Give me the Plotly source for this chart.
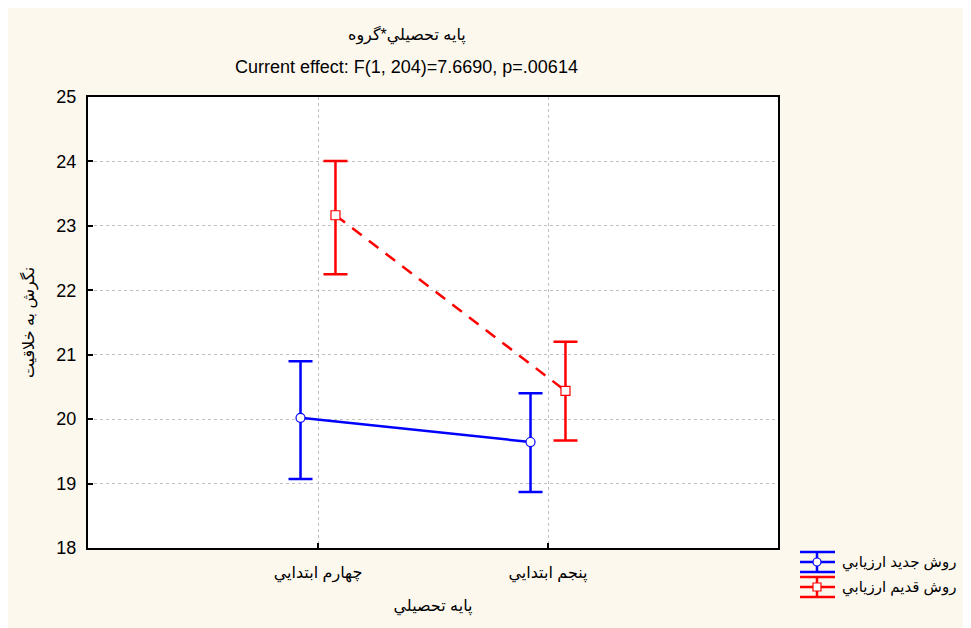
import plotly.graph_objects as go

# ---- data ----
categories = ["چهارم ابتدايي", "پنجم ابتدايي"]
series_names = ["روش جديد ارزيابي", "روش قديم ارزيابي"]
new_mean = [20.02, 19.645]
new_upper = [20.90, 20.40]
new_lower = [19.07, 18.87]
old_mean = [23.165, 20.44]
old_upper = [24.005, 21.20]
old_lower = [22.25, 19.67]
y_ticks = [18, 19, 20, 21, 22, 23, 24, 25]

title_main = "پايه تحصيلي*گروه"
title_sub = "Current effect: F(1, 204)=7.6690, p=.00614"
x_title = "پايه تحصيلي"
y_title = "نگرش به خلاقيت"

# ---- layout geometry (page body has an 8px margin) ----
OFF = 8
W, H = 971 - OFF, 628 - OFF
L, R, T, B = 88 - OFF, 193, 97 - OFF, 80
PW, PH = W - L - R, H - T - B
FONT = "Arial, 'Liberation Sans', 'DejaVu Sans', sans-serif"
BLUE = "#0000FF"
RED = "#FF0000"
offset = 0.076

def px_x(px):
    return (px - OFF - L) / PW

def px_y(py):
    return (H - B - (py - OFF)) / PH

xs = list(range(len(categories)))

fig = go.Figure()

fig.add_trace(go.Scatter(
    x=[x - offset for x in xs], y=new_mean, mode="lines+markers",
    name=series_names[0], showlegend=False,
    line=dict(color=BLUE, width=2.5),
    marker=dict(symbol="circle", size=9, color="white", line=dict(color=BLUE, width=1.2)),
    error_y=dict(type="data", symmetric=False,
                 array=[u - m for u, m in zip(new_upper, new_mean)],
                 arrayminus=[m - l for m, l in zip(new_mean, new_lower)],
                 color=BLUE, thickness=2.5, width=12),
))
fig.add_trace(go.Scatter(
    x=[x + offset for x in xs], y=old_mean, mode="lines+markers",
    name=series_names[1], showlegend=False,
    line=dict(color=RED, width=2.5, dash="12px,9px"),
    marker=dict(symbol="square", size=9, color="white", line=dict(color=RED, width=1.2)),
    error_y=dict(type="data", symmetric=False,
                 array=[u - m for u, m in zip(old_upper, old_mean)],
                 arrayminus=[m - l for m, l in zip(old_mean, old_lower)],
                 color=RED, thickness=2.5, width=12),
))

shapes = []

# custom legend glyphs (error-bar style)
def legend_glyph(color, cy, marker):
    cx = 817
    x0, x1 = 800, 835
    out = []
    for yy in (cy - 10, cy, cy + 10):
        out.append(dict(type="line", xref="paper", yref="paper",
                        x0=px_x(x0), x1=px_x(x1), y0=px_y(yy), y1=px_y(yy),
                        line=dict(color=color, width=2.5)))
    out.append(dict(type="line", xref="paper", yref="paper",
                    x0=px_x(cx), x1=px_x(cx), y0=px_y(cy - 10), y1=px_y(cy + 10),
                    line=dict(color=color, width=2.5)))
    r = 4
    out.append(dict(type=marker, xref="paper", yref="paper",
                    x0=px_x(cx - r), x1=px_x(cx + r), y0=px_y(cy - r), y1=px_y(cy + r),
                    fillcolor="white", line=dict(color=color, width=1.2)))
    return out

shapes += legend_glyph(BLUE, 562, "circle")
shapes += legend_glyph(RED, 587, "rect")

annotations = [
    dict(text=title_main, xref="paper", yref="paper", x=px_x(407), y=px_y(35),
         xanchor="center", yanchor="middle",
         showarrow=False, font=dict(family=FONT, size=16, color="black")),
    dict(text=title_sub, xref="paper", yref="paper", x=px_x(406), y=px_y(67),
         xanchor="center", yanchor="middle",
         showarrow=False, font=dict(family=FONT, size=18, color="black")),
    dict(text=series_names[0], xref="paper", yref="paper", x=px_x(840), y=px_y(562),
         xanchor="left", yanchor="middle",
         showarrow=False, font=dict(family=FONT, size=15, color="black")),
    dict(text=series_names[1], xref="paper", yref="paper", x=px_x(840), y=px_y(587),
         xanchor="left", yanchor="middle",
         showarrow=False, font=dict(family=FONT, size=15, color="black")),
]

fig.update_layout(
    width=W, height=H,
    margin=dict(l=L, r=R, t=T, b=B, pad=0),
    paper_bgcolor="#FDF8EE", plot_bgcolor="white",
    showlegend=False,
    shapes=shapes, annotations=annotations,
    font=dict(family=FONT, size=18, color="black"),
    xaxis=dict(range=[-1, 2], tickvals=xs, ticktext=categories,
               showgrid=True, gridcolor="#C0C0C0", gridwidth=1, griddash="3px,3px",
               zeroline=False, showline=True, linecolor="black", linewidth=2, mirror=True,
               ticks="inside", ticklen=5, tickcolor="black", tickwidth=1.5,
               ticklabelstandoff=9,
               tickfont=dict(family=FONT, size=16),
               title=dict(text=x_title, font=dict(family=FONT, size=16), standoff=18)),
    yaxis=dict(range=[18, 25], tickvals=y_ticks,
               showgrid=True, gridcolor="#C0C0C0", gridwidth=1, griddash="3px,3px",
               zeroline=False, showline=True, linecolor="black", linewidth=2, mirror=True,
               ticks="inside", ticklen=5, tickcolor="black", tickwidth=1.5,
               ticklabelstandoff=6,
               tickfont=dict(family=FONT, size=18),
               title=dict(text=y_title, font=dict(family=FONT, size=16), standoff=18)),
)

fig.write_html("out.html")
